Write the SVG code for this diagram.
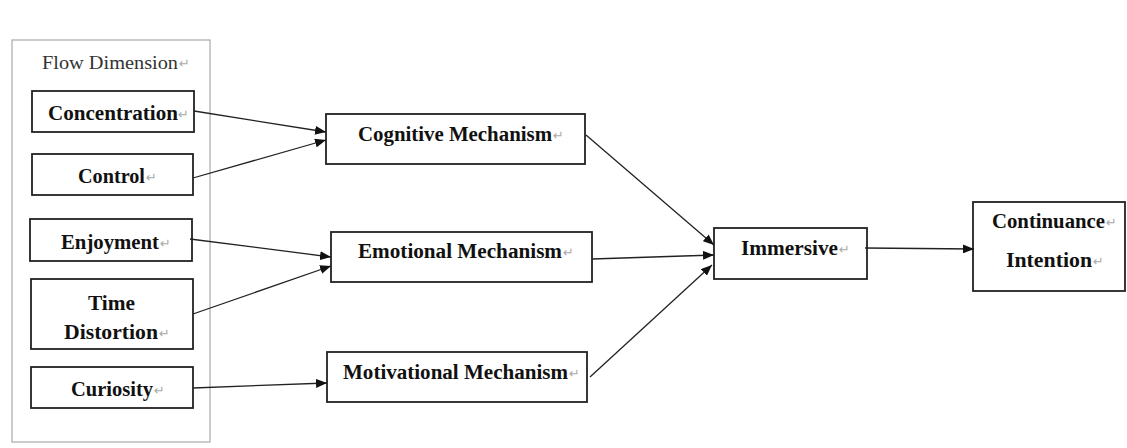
<svg xmlns="http://www.w3.org/2000/svg" width="1127" height="448" viewBox="0 0 1127 448">
<style>
.box{fill:#fff;stroke:#222;stroke-width:1.8}
.outer{fill:#fff;stroke:#aaa;stroke-width:1.2}
.lbl{font-family:"Liberation Serif",serif;font-weight:bold;font-size:20px;fill:#111}
.reg{font-family:"Liberation Serif",serif;font-size:18px;fill:#333}
.pm{font-family:"DejaVu Sans",sans-serif;font-size:13px;fill:#aaa}
.edge{stroke:#222;stroke-width:1.3;fill:none;marker-end:url(#ah)}
</style>
<defs>
<marker id="ah" markerWidth="11" markerHeight="9" refX="11" refY="4.5" orient="auto" markerUnits="userSpaceOnUse">
<path d="M0,0 L11,4.5 L0,9 Z" fill="#111"/>
</marker>
</defs>
<rect width="1127" height="448" fill="#fff"/>
<g id="flow-dimension">
<rect class="outer" x="12" y="40" width="198" height="402"/>
<text class="reg" x="42" y="69" textLength="136" lengthAdjust="spacingAndGlyphs">Flow Dimension</text><text class="pm" x="179" y="68">↵</text>
</g>
<g id="concentration">
<rect class="box" x="32" y="91" width="162" height="41"/>
<text class="lbl" x="48" y="120" textLength="130" lengthAdjust="spacingAndGlyphs">Concentration</text><text class="pm" x="178" y="119">↵</text>
</g>
<g id="control">
<rect class="box" x="32" y="154" width="161" height="41"/>
<text class="lbl" x="78" y="183" textLength="67" lengthAdjust="spacingAndGlyphs">Control</text><text class="pm" x="146" y="182">↵</text>
</g>
<g id="enjoyment">
<rect class="box" x="30" y="219" width="162" height="42"/>
<text class="lbl" x="61" y="249" textLength="98" lengthAdjust="spacingAndGlyphs">Enjoyment</text><text class="pm" x="160" y="248">↵</text>
</g>
<g id="time-distortion">
<rect class="box" x="31" y="279" width="162" height="70"/>
<text class="lbl" x="88" y="310" textLength="47" lengthAdjust="spacingAndGlyphs">Time</text>
<text class="lbl" x="64" y="339" textLength="94" lengthAdjust="spacingAndGlyphs">Distortion</text><text class="pm" x="159" y="338">↵</text>
</g>
<g id="curiosity">
<rect class="box" x="31" y="367" width="162" height="41"/>
<text class="lbl" x="71" y="396" textLength="82" lengthAdjust="spacingAndGlyphs">Curiosity</text><text class="pm" x="154" y="395">↵</text>
</g>
<g id="cognitive">
<rect class="box" x="326" y="114" width="259" height="50"/>
<text class="lbl" x="358" y="141" textLength="194" lengthAdjust="spacingAndGlyphs">Cognitive Mechanism</text><text class="pm" x="553" y="140">↵</text>
</g>
<g id="emotional">
<rect class="box" x="331" y="232" width="261" height="50"/>
<text class="lbl" x="358" y="258" textLength="204" lengthAdjust="spacingAndGlyphs">Emotional Mechanism</text><text class="pm" x="563" y="257">↵</text>
</g>
<g id="motivational">
<rect class="box" x="327" y="352" width="260" height="50"/>
<text class="lbl" x="343" y="379" textLength="225" lengthAdjust="spacingAndGlyphs">Motivational Mechanism</text><text class="pm" x="569" y="378">↵</text>
</g>
<g id="immersive">
<rect class="box" x="714" y="228" width="153" height="51"/>
<text class="lbl" x="741" y="255" textLength="97" lengthAdjust="spacingAndGlyphs">Immersive</text><text class="pm" x="839" y="254">↵</text>
</g>
<g id="continuance">
<rect class="box" x="973" y="202" width="152" height="89"/>
<text class="lbl" x="992" y="228" textLength="113" lengthAdjust="spacingAndGlyphs">Continuance</text><text class="pm" x="1106" y="227">↵</text>
<text class="lbl" x="1006" y="267" textLength="86" lengthAdjust="spacingAndGlyphs">Intention</text><text class="pm" x="1093" y="266">↵</text>
</g>
<g id="connectors">
<line class="edge" x1="194" y1="111" x2="326" y2="132"/>
<line class="edge" x1="193" y1="178" x2="326" y2="140"/>
<line class="edge" x1="190" y1="239" x2="331" y2="257"/>
<line class="edge" x1="193" y1="314" x2="331" y2="266"/>
<line class="edge" x1="193" y1="388" x2="327" y2="383"/>
<line class="edge" x1="586" y1="135" x2="714" y2="245"/>
<line class="edge" x1="592" y1="259" x2="714" y2="255"/>
<line class="edge" x1="590" y1="377" x2="712" y2="265"/>
<line class="edge" x1="865" y1="248" x2="974" y2="249"/>
</g>
</svg>
